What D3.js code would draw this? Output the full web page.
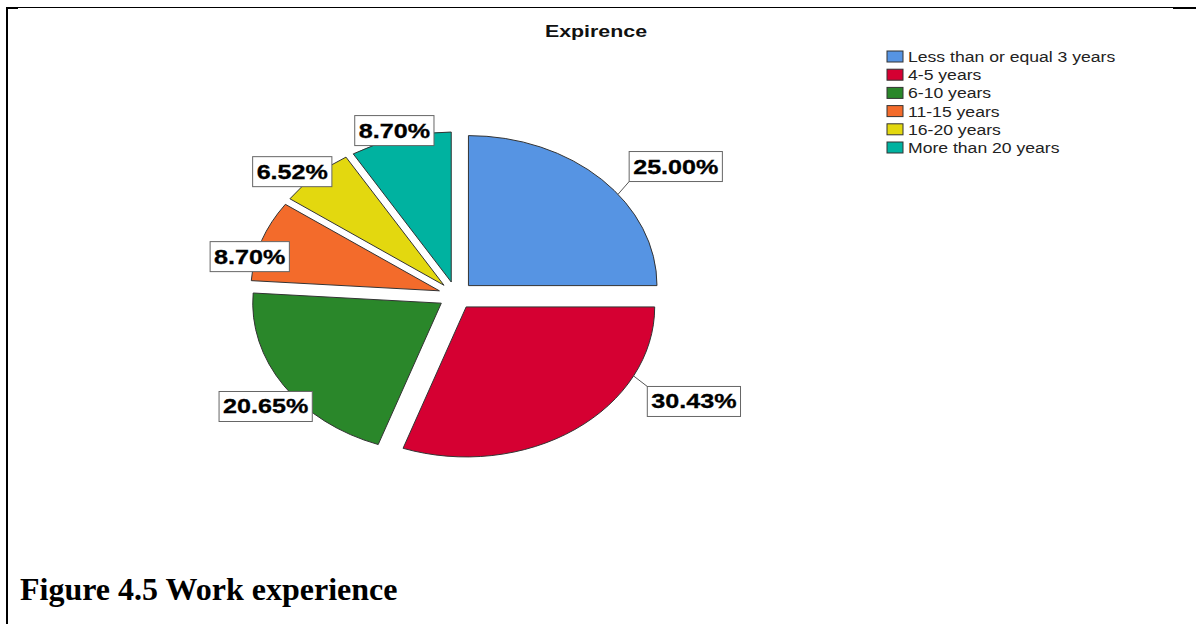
<!DOCTYPE html>
<html>
<head>
<meta charset="utf-8">
<script src="https://cdn.jsdelivr.net/npm/d3@7"></script>
<style>
  body { margin: 0; background: #fff; }
  svg { display: block; }
</style>
</head>
<body>
<script>
const categories = ["Less than or equal 3 years", "4-5 years", "6-10 years", "11-15 years", "16-20 years", "More than 20 years"];
const percents = [25.00, 30.43, 20.65, 8.70, 6.52, 8.70];
const colors = ["#5694e3", "#d50032", "#2a872a", "#f36b2b", "#e3d80f", "#00b2a0"];
// where SPSS pushed each label away from the slice edge
const labelNudge = [[74, -13], [119, -28], [-18, 21], [-12, 16], [-23, -4], [-6, -7]];

const w = 1196;
const h = 624;
const sx = 1.257;          // the chart image is stretched sideways
const cx = 456, cy = 295.5;
const radius = 150;
const explode = 14;

const svg = d3.select("body")
              .append("svg")
              .attr("width", w)
              .attr("height", h);

// frame lines of the surrounding table
svg.append("line").attr("x1", 6).attr("y1", 7.5).attr("x2", 1173).attr("y2", 7.5)
   .attr("stroke", "#000").attr("stroke-width", 1);
svg.append("rect").attr("x", 1173).attr("y", 7).attr("width", 23).attr("height", 2).attr("fill", "#000");
svg.append("rect").attr("x", 6).attr("y", 7).attr("width", 12).attr("height", 2).attr("fill", "#000");
svg.append("rect").attr("x", 6).attr("y", 7).attr("width", 2).attr("height", h - 7).attr("fill", "#000");

function stretchedText(x, y, txt) {
  return svg.append("text")
            .attr("transform", "translate(" + x + "," + y + ") scale(" + sx + ",1)")
            .text(txt);
}

stretchedText(596, 37, "Expirence")
  .attr("text-anchor", "middle")
  .attr("font-family", "Liberation Sans, Arial, sans-serif")
  .attr("font-weight", "bold")
  .attr("font-size", "17px")
  .attr("fill", "#111");

const pie = d3.pie().sort(null).value(d => d);
const arcs = pie(percents);
const arc = d3.arc().innerRadius(0).outerRadius(radius);

const pieG = svg.append("g")
                .attr("transform", "translate(" + cx + "," + cy + ") scale(" + sx + ",1)");

pieG.selectAll("path")
    .data(arcs)
    .enter()
    .append("path")
    .attr("d", arc)
    .attr("transform", d => {
      const mid = (d.startAngle + d.endAngle) / 2;
      return "translate(" + (explode * Math.sin(mid)) + "," + (-explode * Math.cos(mid)) + ")";
    })
    .attr("fill", (d, i) => colors[i])
    .attr("stroke", "#333")
    .attr("stroke-width", 1)
    .attr("vector-effect", "non-scaling-stroke");

function toScreen(d, r, a) {
  const mid = (d.startAngle + d.endAngle) / 2;
  const ox = explode * Math.sin(mid), oy = -explode * Math.cos(mid);
  return [cx + sx * (ox + r * Math.sin(a)), cy + oy - r * Math.cos(a)];
}

const labelG = svg.append("g");
arcs.forEach((d, i) => {
  const mid = (d.startAngle + d.endAngle) / 2;
  const base = toScreen(d, radius, mid);
  const lx = base[0] + labelNudge[i][0];
  const ly = base[1] + labelNudge[i][1];

  const g = labelG.append("g");
  const t = g.append("text")
             .attr("text-anchor", "middle")
             .attr("font-family", "Liberation Sans, Arial, sans-serif")
             .attr("font-weight", "bold")
             .attr("font-size", "20px")
             .attr("fill", "#000")
             .attr("stroke", "#000")
             .attr("stroke-width", 0.3)
             .attr("transform", "translate(" + lx + "," + (ly + 7) + ") scale(" + sx + ",1)")
             .text(d3.format(".2f")(percents[i]) + "%");
  const tw = t.node().getComputedTextLength() * sx + 8;
  const bw = tw, bh = 30;
  const bx = lx - bw / 2, by = ly - bh / 2;

  // leader line from the nearest point of the slice rim to the box
  let best = null;
  for (let k = 0; k <= 60; k++) {
    const a = d.startAngle + (d.endAngle - d.startAngle) * k / 60;
    const p = toScreen(d, radius, a);
    const qx = Math.max(bx, Math.min(bx + bw, p[0]));
    const qy = Math.max(by, Math.min(by + bh, p[1]));
    const dist = Math.hypot(p[0] - qx, p[1] - qy);
    if (!best || dist < best.dist) best = {dist: dist, p: p, q: [qx, qy]};
  }
  if (best.dist > 4) {
    g.insert("line", "text")
     .attr("x1", best.p[0]).attr("y1", best.p[1])
     .attr("x2", best.q[0]).attr("y2", best.q[1])
     .attr("stroke", "#555").attr("stroke-width", 1);
  }
  g.insert("rect", "text")
   .attr("x", bx).attr("y", by)
   .attr("width", bw).attr("height", bh)
   .attr("fill", "#fff")
   .attr("stroke", "#666")
   .attr("stroke-width", 1);
});

// legend
const legend = svg.append("g");
categories.forEach((c, i) => {
  const y = 51 + i * 18.2;
  legend.append("rect")
        .attr("x", 887).attr("y", y)
        .attr("width", 16).attr("height", 11)
        .attr("fill", colors[i])
        .attr("stroke", "#333")
        .attr("stroke-width", 1);
  stretchedText(908, y + 11, c)
    .attr("font-family", "Liberation Sans, Arial, sans-serif")
    .attr("font-size", "14px")
    .attr("fill", "#222");
});

svg.append("text")
   .attr("x", 20)
   .attr("y", 600)
   .attr("font-family", "Liberation Serif, Times New Roman, serif")
   .attr("font-weight", "bold")
   .attr("font-size", "32px")
   .attr("fill", "#000")
   .text("Figure 4.5 Work experience");
</script>
</body>
</html>
